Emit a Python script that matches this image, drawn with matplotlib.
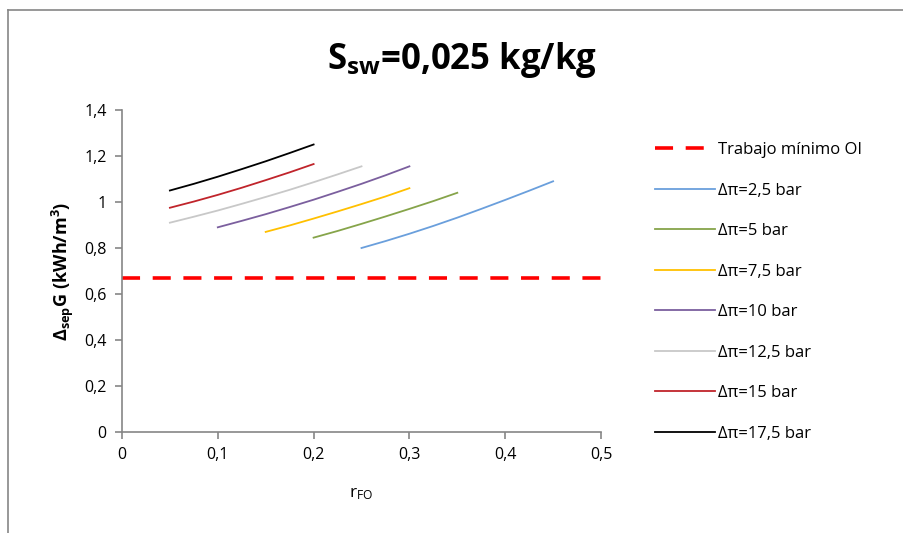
import numpy as np
import matplotlib.pyplot as plt
from matplotlib.lines import Line2D

plt.rcParams['font.family'] = ['Open Sans', 'DejaVu Sans']
plt.rcParams['mathtext.fontset'] = 'custom'
plt.rcParams['mathtext.rm'] = 'Open Sans'
plt.rcParams['mathtext.bf'] = 'Open Sans:bold'
plt.rcParams['mathtext.it'] = 'Open Sans:italic'

# data
minimum_work = 0.67
labels = ["Δπ=2,5 bar", "Δπ=5 bar", "Δπ=7,5 bar", "Δπ=10 bar",
          "Δπ=12,5 bar", "Δπ=15 bar", "Δπ=17,5 bar"]
colors = ["#6A9FDC", "#86A44A", "#FFC000", "#7B5F9E", "#C8C8C8", "#C0242B", "#000000"]

r_fo_25 = [0.25, 0.275, 0.30, 0.325, 0.35, 0.375, 0.40, 0.425, 0.45]
g_25 = [0.80, 0.83, 0.862, 0.896, 0.932, 0.97, 1.009, 1.049, 1.09]
r_fo_5 = [0.20, 0.225, 0.25, 0.275, 0.30, 0.325, 0.35]
g_5 = [0.845, 0.874, 0.905, 0.937, 0.970, 1.004, 1.040]
r_fo_75 = [0.15, 0.175, 0.20, 0.225, 0.25, 0.275, 0.30]
g_75 = [0.87, 0.898, 0.928, 0.959, 0.991, 1.024, 1.06]
r_fo_10 = [0.10, 0.125, 0.15, 0.175, 0.20, 0.225, 0.25, 0.275, 0.30]
g_10 = [0.89, 0.918, 0.947, 0.978, 1.010, 1.044, 1.079, 1.116, 1.155]
r_fo_125 = [0.05, 0.075, 0.10, 0.125, 0.15, 0.175, 0.20, 0.225, 0.25]
g_125 = [0.91, 0.936, 0.963, 0.992, 1.022, 1.053, 1.086, 1.120, 1.155]
r_fo_15 = [0.05, 0.075, 0.10, 0.125, 0.15, 0.175, 0.20]
g_15 = [0.975, 1.002, 1.031, 1.062, 1.095, 1.129, 1.165]
r_fo_175 = [0.05, 0.075, 0.10, 0.125, 0.15, 0.175, 0.20]
g_175 = [1.05, 1.079, 1.110, 1.143, 1.177, 1.213, 1.25]

series = [(r_fo_25, g_25), (r_fo_5, g_5), (r_fo_75, g_75), (r_fo_10, g_10),
          (r_fo_125, g_125), (r_fo_15, g_15), (r_fo_175, g_175)]

fig = plt.figure(figsize=(9.04, 5.33), dpi=100)
ax = fig.add_axes([122/904, 1-432/533, 479/904, 322/533])

ax.plot([0, 0.5], [minimum_work, minimum_work], color="#FF0000", lw=2.6,
        dashes=(5, 3.5), label="Trabajo mínimo OI")
for (x, y), lab, c in zip(series, labels, colors):
    ax.plot(x, y, color=c, lw=1.3, label=lab)

ax.set_xlim(0, 0.5)
ax.set_ylim(0, 1.4)
ax.set_xticks(np.arange(0, 0.51, 0.1))
ax.set_yticks(np.arange(0, 1.41, 0.2))
ax.set_xticklabels(["0", "0,1", "0,2", "0,3", "0,4", "0,5"])
ax.set_yticklabels(["0", "0,2", "0,4", "0,6", "0,8", "1", "1,2", "1,4"])
ax.tick_params(labelsize=11.5, color="#868686", length=5, width=1.2, pad=6)
for s in ["top", "right"]:
    ax.spines[s].set_visible(False)
for s in ["left", "bottom"]:
    ax.spines[s].set_color("#868686")
    ax.spines[s].set_linewidth(1.2)

fig.text(462/904, 1-60/533, r"S$_{\mathregular{sw}}$=0,025 kg/kg", ha="center", va="center",
         fontsize=25, fontweight="bold")
ax.set_ylabel(r"$\mathbf{\Delta_{sep}G\ (kWh/m^3)}$", fontsize=13, labelpad=6)
ax.set_xlabel(r"r$_{\mathregular{FO}}$", fontsize=12.5, labelpad=16)

ax.legend(loc="upper left", bbox_to_anchor=(640/904, 1-127/533), bbox_transform=fig.transFigure,
          frameon=False, fontsize=12, labelspacing=1.47, handlelength=3.6, handletextpad=0.2)

# outer chart border (top and left visible)
fig.add_artist(Line2D([8/904, 8/904], [0, 1-10/533], transform=fig.transFigure, color="#868686", lw=1.2))
fig.add_artist(Line2D([8/904, 1], [1-10/533, 1-10/533], transform=fig.transFigure, color="#868686", lw=1.2))

fig.savefig("out.png", dpi=100)
plt.close()
